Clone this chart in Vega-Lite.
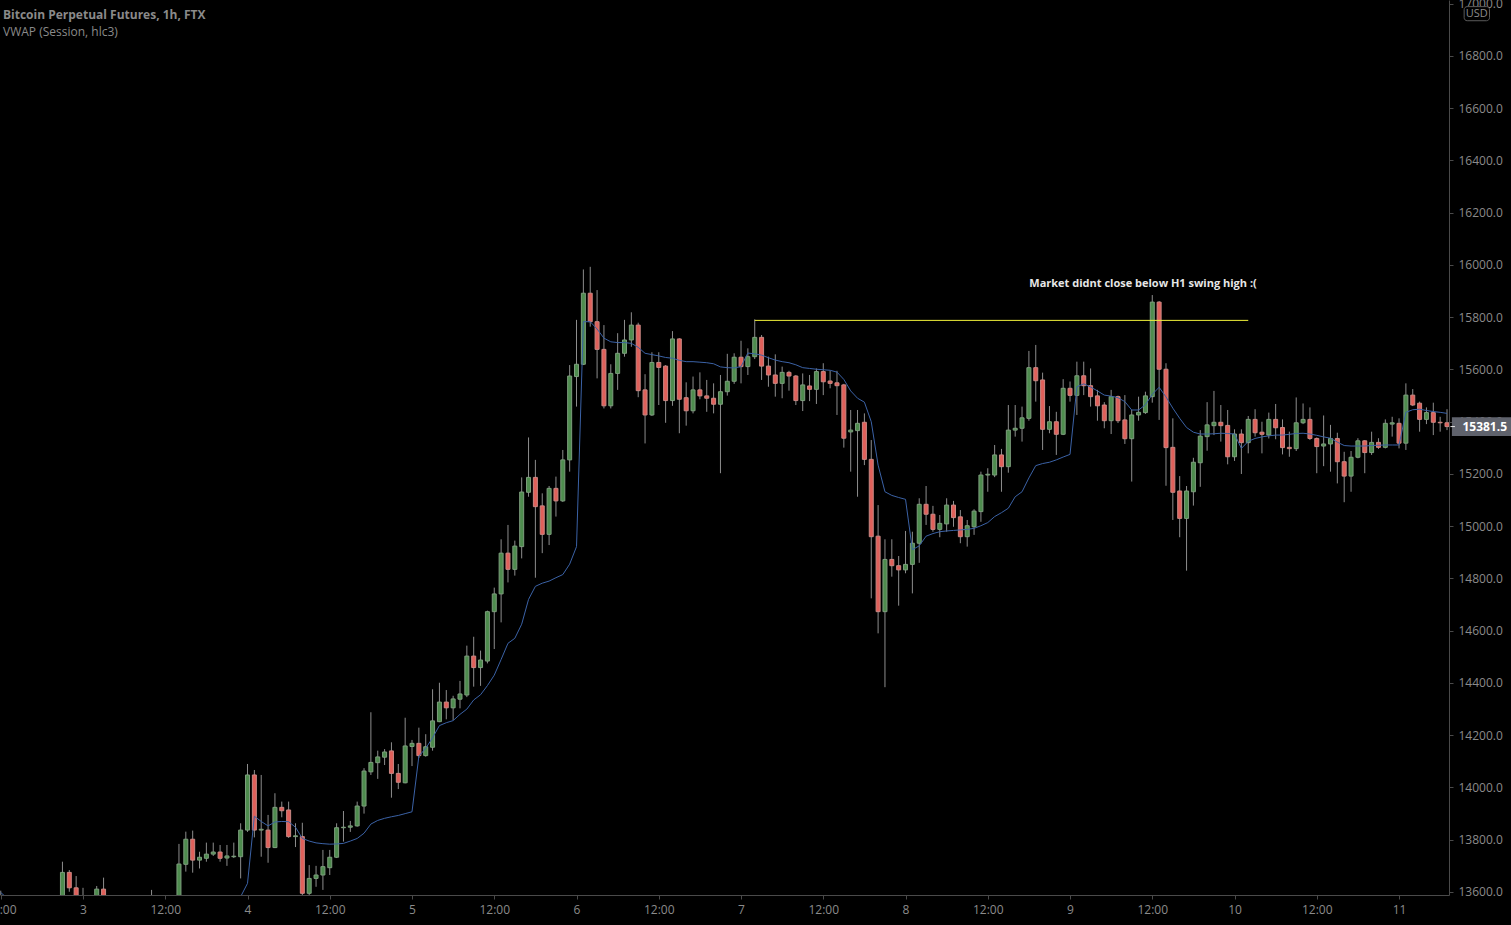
{
  "$schema": "https://vega.github.io/schema/vega-lite/v6.json",
  "width": 1449,
  "height": 895,
  "autosize": "none",
  "padding": {"left": 0, "top": 0, "right": 62, "bottom": 30},
  "background": "#000000",
  "config": {"view": {"stroke": null}, "font": "Open Sans", "axis": {"grid": false}},
  "title": {
    "text": "Bitcoin Perpetual Futures, 1h, FTX",
    "subtitle": "VWAP (Session, hlc3)",
    "anchor": "start", "frame": "group", "orient": "top", "offset": -41, "dx": 3,
    "font": "Open Sans", "fontSize": 12, "fontWeight": "bold", "color": "#8a8a8a",
    "subtitleFont": "Open Sans", "subtitleFontSize": 12, "subtitleColor": "#8a8a8a", "subtitlePadding": 5
  },
  "datasets": {
    "candles": [
      {"hour":-12,"open":13560,"high":13605,"low":13520,"close":13570,"vwap":13598},
      {"hour":-11,"open":13570,"high":13585,"low":13510,"close":13545,"vwap":13575},
      {"hour":-10,"open":13545,"high":13570,"low":13480,"close":13520,"vwap":13560},
      {"hour":-9,"open":13520,"high":13550,"low":13460,"close":13500,"vwap":13550},
      {"hour":-8,"open":13500,"high":13555,"low":13470,"close":13530,"vwap":13545},
      {"hour":-7,"open":13530,"high":13560,"low":13490,"close":13515,"vwap":13540},
      {"hour":-6,"open":13515,"high":13570,"low":13495,"close":13540,"vwap":13538},
      {"hour":-5,"open":13540,"high":13575,"low":13500,"close":13525,"vwap":13536},
      {"hour":-4,"open":13525,"high":13580,"low":13510,"close":13560,"vwap":13535},
      {"hour":-3,"open":13560,"high":13716,"low":13540,"close":13675,"vwap":13540},
      {"hour":-2,"open":13675,"high":13684,"low":13601,"close":13616,"vwap":13548},
      {"hour":-1,"open":13616,"high":13661,"low":13545,"close":13570,"vwap":13552},
      {"hour":0,"open":13570,"high":13616,"low":13530,"close":13560,"vwap":13555},
      {"hour":1,"open":13560,"high":13585,"low":13530,"close":13575,"vwap":13566},
      {"hour":2,"open":13575,"high":13623,"low":13560,"close":13611,"vwap":13566},
      {"hour":3,"open":13611,"high":13655,"low":13560,"close":13580,"vwap":13568},
      {"hour":4,"open":13580,"high":13585,"low":13530,"close":13560,"vwap":13567},
      {"hour":5,"open":13560,"high":13575,"low":13510,"close":13540,"vwap":13565},
      {"hour":6,"open":13540,"high":13570,"low":13500,"close":13555,"vwap":13563},
      {"hour":7,"open":13555,"high":13580,"low":13505,"close":13530,"vwap":13562},
      {"hour":8,"open":13530,"high":13565,"low":13500,"close":13545,"vwap":13560},
      {"hour":9,"open":13545,"high":13580,"low":13520,"close":13560,"vwap":13560},
      {"hour":10,"open":13560,"high":13608,"low":13540,"close":13570,"vwap":13561},
      {"hour":11,"open":13570,"high":13585,"low":13530,"close":13555,"vwap":13561},
      {"hour":12,"open":13555,"high":13582,"low":13525,"close":13565,"vwap":13561},
      {"hour":13,"open":13565,"high":13580,"low":13540,"close":13575,"vwap":13562},
      {"hour":14,"open":13575,"high":13784,"low":13560,"close":13707,"vwap":13566},
      {"hour":15,"open":13706,"high":13831,"low":13678,"close":13802,"vwap":13572},
      {"hour":16,"open":13802,"high":13835,"low":13674,"close":13722,"vwap":13576},
      {"hour":17,"open":13722,"high":13754,"low":13690,"close":13733,"vwap":13578},
      {"hour":18,"open":13729,"high":13789,"low":13716,"close":13745,"vwap":13579},
      {"hour":19,"open":13745,"high":13789,"low":13738,"close":13753,"vwap":13580},
      {"hour":20,"open":13753,"high":13780,"low":13716,"close":13729,"vwap":13580},
      {"hour":21,"open":13730,"high":13780,"low":13700,"close":13738,"vwap":13580},
      {"hour":22,"open":13735,"high":13789,"low":13730,"close":13737,"vwap":13580},
      {"hour":23,"open":13735,"high":13863,"low":13652,"close":13837,"vwap":13582},
      {"hour":24,"open":13837,"high":14090,"low":13830,"close":14048,"vwap":13633},
      {"hour":25,"open":14048,"high":14067,"low":13809,"close":13837,"vwap":13890},
      {"hour":26,"open":13837,"high":14048,"low":13735,"close":13840,"vwap":13870},
      {"hour":27,"open":13837,"high":13895,"low":13712,"close":13770,"vwap":13853},
      {"hour":28,"open":13770,"high":13978,"low":13768,"close":13924,"vwap":13868},
      {"hour":29,"open":13924,"high":13946,"low":13886,"close":13911,"vwap":13870},
      {"hour":30,"open":13914,"high":13946,"low":13807,"close":13812,"vwap":13869},
      {"hour":31,"open":13812,"high":13863,"low":13772,"close":13815,"vwap":13848},
      {"hour":32,"open":13812,"high":13865,"low":13570,"close":13595,"vwap":13805},
      {"hour":33,"open":13595,"high":13703,"low":13580,"close":13652,"vwap":13795},
      {"hour":34,"open":13652,"high":13700,"low":13620,"close":13665,"vwap":13788},
      {"hour":35,"open":13665,"high":13761,"low":13608,"close":13697,"vwap":13785},
      {"hour":36,"open":13693,"high":13761,"low":13665,"close":13733,"vwap":13783},
      {"hour":37,"open":13733,"high":13863,"low":13730,"close":13846,"vwap":13784},
      {"hour":38,"open":13846,"high":13910,"low":13793,"close":13848,"vwap":13786},
      {"hour":39,"open":13848,"high":13872,"low":13830,"close":13853,"vwap":13795},
      {"hour":40,"open":13853,"high":13946,"low":13850,"close":13929,"vwap":13805},
      {"hour":41,"open":13929,"high":14074,"low":13900,"close":14063,"vwap":13825},
      {"hour":42,"open":14060,"high":14288,"low":14048,"close":14096,"vwap":13860},
      {"hour":43,"open":14095,"high":14141,"low":14033,"close":14117,"vwap":13874},
      {"hour":44,"open":14116,"high":14147,"low":14086,"close":14136,"vwap":13882},
      {"hour":45,"open":14140,"high":14173,"low":13961,"close":14054,"vwap":13888},
      {"hour":46,"open":14054,"high":14090,"low":13994,"close":14020,"vwap":13893},
      {"hour":47,"open":14018,"high":14267,"low":14016,"close":14159,"vwap":13900},
      {"hour":48,"open":14157,"high":14182,"low":14082,"close":14169,"vwap":13907},
      {"hour":49,"open":14169,"high":14229,"low":14113,"close":14122,"vwap":14120},
      {"hour":50,"open":14122,"high":14204,"low":14118,"close":14156,"vwap":14150},
      {"hour":51,"open":14154,"high":14376,"low":14141,"close":14255,"vwap":14190},
      {"hour":52,"open":14252,"high":14401,"low":14250,"close":14327,"vwap":14237},
      {"hour":53,"open":14327,"high":14373,"low":14261,"close":14305,"vwap":14248},
      {"hour":54,"open":14305,"high":14351,"low":14258,"close":14339,"vwap":14256},
      {"hour":55,"open":14338,"high":14408,"low":14303,"close":14358,"vwap":14280},
      {"hour":56,"open":14354,"high":14543,"low":14346,"close":14503,"vwap":14300},
      {"hour":57,"open":14503,"high":14577,"low":14386,"close":14459,"vwap":14335},
      {"hour":58,"open":14459,"high":14524,"low":14389,"close":14488,"vwap":14355},
      {"hour":59,"open":14484,"high":14677,"low":14475,"close":14673,"vwap":14390},
      {"hour":60,"open":14673,"high":14765,"low":14530,"close":14741,"vwap":14430},
      {"hour":61,"open":14741,"high":14950,"low":14632,"close":14897,"vwap":14490},
      {"hour":62,"open":14897,"high":15005,"low":14785,"close":14835,"vwap":14552},
      {"hour":63,"open":14835,"high":14945,"low":14811,"close":14924,"vwap":14571},
      {"hour":64,"open":14922,"high":15187,"low":14877,"close":15131,"vwap":14625},
      {"hour":65,"open":15130,"high":15340,"low":15113,"close":15187,"vwap":14720},
      {"hour":66,"open":15187,"high":15254,"low":14803,"close":15075,"vwap":14770},
      {"hour":67,"open":15078,"high":15126,"low":14897,"close":14969,"vwap":14782},
      {"hour":68,"open":14969,"high":15154,"low":14928,"close":15145,"vwap":14790},
      {"hour":69,"open":15145,"high":15190,"low":15037,"close":15097,"vwap":14803},
      {"hour":70,"open":15097,"high":15292,"low":15093,"close":15254,"vwap":14815},
      {"hour":71,"open":15254,"high":15617,"low":15209,"close":15575,"vwap":14855},
      {"hour":72,"open":15573,"high":15790,"low":15458,"close":15620,"vwap":14922},
      {"hour":73,"open":15620,"high":15983,"low":15617,"close":15892,"vwap":15783},
      {"hour":74,"open":15892,"high":15993,"low":15764,"close":15783,"vwap":15783},
      {"hour":75,"open":15783,"high":15904,"low":15566,"close":15677,"vwap":15755},
      {"hour":76,"open":15677,"high":15770,"low":15451,"close":15461,"vwap":15720},
      {"hour":77,"open":15461,"high":15620,"low":15451,"close":15585,"vwap":15706},
      {"hour":78,"open":15585,"high":15739,"low":15522,"close":15662,"vwap":15703},
      {"hour":79,"open":15662,"high":15790,"low":15649,"close":15713,"vwap":15703},
      {"hour":80,"open":15713,"high":15819,"low":15687,"close":15770,"vwap":15700},
      {"hour":81,"open":15770,"high":15779,"low":15494,"close":15519,"vwap":15685},
      {"hour":82,"open":15522,"high":15582,"low":15317,"close":15426,"vwap":15662},
      {"hour":83,"open":15426,"high":15666,"low":15422,"close":15627,"vwap":15657},
      {"hour":84,"open":15627,"high":15666,"low":15464,"close":15608,"vwap":15652},
      {"hour":85,"open":15613,"high":15617,"low":15396,"close":15481,"vwap":15646},
      {"hour":86,"open":15481,"high":15747,"low":15461,"close":15717,"vwap":15643},
      {"hour":87,"open":15717,"high":15720,"low":15356,"close":15486,"vwap":15635},
      {"hour":88,"open":15492,"high":15551,"low":15385,"close":15442,"vwap":15630},
      {"hour":89,"open":15442,"high":15573,"low":15432,"close":15522,"vwap":15630},
      {"hour":90,"open":15522,"high":15589,"low":15486,"close":15499,"vwap":15628},
      {"hour":91,"open":15499,"high":15560,"low":15438,"close":15490,"vwap":15626},
      {"hour":92,"open":15490,"high":15547,"low":15432,"close":15467,"vwap":15622},
      {"hour":93,"open":15467,"high":15579,"low":15203,"close":15515,"vwap":15610},
      {"hour":94,"open":15515,"high":15660,"low":15500,"close":15555,"vwap":15607},
      {"hour":95,"open":15555,"high":15662,"low":15545,"close":15647,"vwap":15606},
      {"hour":96,"open":15647,"high":15710,"low":15547,"close":15611,"vwap":15611},
      {"hour":97,"open":15611,"high":15681,"low":15579,"close":15649,"vwap":15663},
      {"hour":98,"open":15649,"high":15792,"low":15640,"close":15723,"vwap":15660},
      {"hour":99,"open":15723,"high":15732,"low":15560,"close":15613,"vwap":15655},
      {"hour":100,"open":15613,"high":15649,"low":15534,"close":15579,"vwap":15645},
      {"hour":101,"open":15579,"high":15658,"low":15496,"close":15547,"vwap":15636},
      {"hour":102,"open":15547,"high":15611,"low":15490,"close":15589,"vwap":15630},
      {"hour":103,"open":15589,"high":15595,"low":15519,"close":15575,"vwap":15626},
      {"hour":104,"open":15575,"high":15579,"low":15464,"close":15481,"vwap":15618},
      {"hour":105,"open":15481,"high":15585,"low":15441,"close":15541,"vwap":15607},
      {"hour":106,"open":15537,"high":15579,"low":15479,"close":15524,"vwap":15604},
      {"hour":107,"open":15524,"high":15604,"low":15468,"close":15592,"vwap":15601},
      {"hour":108,"open":15592,"high":15624,"low":15502,"close":15553,"vwap":15599},
      {"hour":109,"open":15556,"high":15595,"low":15528,"close":15547,"vwap":15597},
      {"hour":110,"open":15549,"high":15595,"low":15426,"close":15538,"vwap":15590},
      {"hour":111,"open":15541,"high":15545,"low":15301,"close":15337,"vwap":15562},
      {"hour":112,"open":15361,"high":15445,"low":15209,"close":15368,"vwap":15518},
      {"hour":113,"open":15366,"high":15445,"low":15113,"close":15394,"vwap":15490},
      {"hour":114,"open":15398,"high":15432,"low":15234,"close":15256,"vwap":15475},
      {"hour":115,"open":15256,"high":15330,"low":14724,"close":14960,"vwap":15400},
      {"hour":116,"open":14962,"high":15081,"low":14590,"close":14673,"vwap":15234},
      {"hour":117,"open":14673,"high":14950,"low":14384,"close":14873,"vwap":15132},
      {"hour":118,"open":14873,"high":14950,"low":14807,"close":14849,"vwap":15118},
      {"hour":119,"open":14849,"high":14886,"low":14696,"close":14833,"vwap":15110},
      {"hour":120,"open":14833,"high":14982,"low":14820,"close":14854,"vwap":15103},
      {"hour":121,"open":14854,"high":14979,"low":14743,"close":14935,"vwap":14910},
      {"hour":122,"open":14935,"high":15107,"low":14860,"close":15084,"vwap":14925},
      {"hour":123,"open":15084,"high":15154,"low":15005,"close":15046,"vwap":14962},
      {"hour":124,"open":15046,"high":15078,"low":14979,"close":14988,"vwap":14972},
      {"hour":125,"open":14988,"high":15043,"low":14958,"close":15011,"vwap":14979},
      {"hour":126,"open":15009,"high":15107,"low":14979,"close":15081,"vwap":14982},
      {"hour":127,"open":15081,"high":15097,"low":14998,"close":15033,"vwap":14984},
      {"hour":128,"open":15036,"high":15062,"low":14935,"close":14960,"vwap":14986},
      {"hour":129,"open":14960,"high":15024,"low":14922,"close":15002,"vwap":14988},
      {"hour":130,"open":14998,"high":15065,"low":14967,"close":15058,"vwap":14992},
      {"hour":131,"open":15056,"high":15209,"low":15017,"close":15196,"vwap":15002},
      {"hour":132,"open":15196,"high":15222,"low":15132,"close":15199,"vwap":15014},
      {"hour":133,"open":15196,"high":15311,"low":15188,"close":15273,"vwap":15037},
      {"hour":134,"open":15273,"high":15296,"low":15132,"close":15228,"vwap":15052},
      {"hour":135,"open":15228,"high":15464,"low":15205,"close":15368,"vwap":15069},
      {"hour":136,"open":15368,"high":15464,"low":15343,"close":15375,"vwap":15113},
      {"hour":137,"open":15375,"high":15458,"low":15324,"close":15415,"vwap":15132},
      {"hour":138,"open":15413,"high":15671,"low":15404,"close":15607,"vwap":15185},
      {"hour":139,"open":15607,"high":15694,"low":15477,"close":15557,"vwap":15232},
      {"hour":140,"open":15560,"high":15588,"low":15292,"close":15371,"vwap":15240},
      {"hour":141,"open":15371,"high":15460,"low":15356,"close":15400,"vwap":15245},
      {"hour":142,"open":15400,"high":15438,"low":15273,"close":15352,"vwap":15254},
      {"hour":143,"open":15352,"high":15563,"low":15349,"close":15528,"vwap":15265},
      {"hour":144,"open":15528,"high":15554,"low":15477,"close":15501,"vwap":15275},
      {"hour":145,"open":15501,"high":15630,"low":15426,"close":15576,"vwap":15534},
      {"hour":146,"open":15576,"high":15630,"low":15502,"close":15538,"vwap":15545},
      {"hour":147,"open":15538,"high":15604,"low":15458,"close":15496,"vwap":15533},
      {"hour":148,"open":15499,"high":15522,"low":15404,"close":15461,"vwap":15518},
      {"hour":149,"open":15464,"high":15475,"low":15375,"close":15404,"vwap":15502},
      {"hour":150,"open":15404,"high":15522,"low":15353,"close":15496,"vwap":15498},
      {"hour":151,"open":15496,"high":15500,"low":15395,"close":15404,"vwap":15492},
      {"hour":152,"open":15407,"high":15502,"low":15315,"close":15335,"vwap":15477},
      {"hour":153,"open":15335,"high":15445,"low":15171,"close":15426,"vwap":15445},
      {"hour":154,"open":15426,"high":15496,"low":15404,"close":15436,"vwap":15445},
      {"hour":155,"open":15435,"high":15515,"low":15430,"close":15499,"vwap":15465},
      {"hour":156,"open":15496,"high":15885,"low":15473,"close":15858,"vwap":15505},
      {"hour":157,"open":15858,"high":15862,"low":15407,"close":15601,"vwap":15532},
      {"hour":158,"open":15601,"high":15624,"low":15155,"close":15301,"vwap":15495},
      {"hour":159,"open":15302,"high":15413,"low":15024,"close":15130,"vwap":15452},
      {"hour":160,"open":15135,"high":15192,"low":14958,"close":15030,"vwap":15413},
      {"hour":161,"open":15030,"high":15154,"low":14830,"close":15135,"vwap":15378},
      {"hour":162,"open":15132,"high":15262,"low":15079,"close":15245,"vwap":15360},
      {"hour":163,"open":15243,"high":15368,"low":15151,"close":15345,"vwap":15353},
      {"hour":164,"open":15343,"high":15475,"low":15289,"close":15388,"vwap":15353},
      {"hour":165,"open":15385,"high":15518,"low":15349,"close":15398,"vwap":15354},
      {"hour":166,"open":15398,"high":15464,"low":15324,"close":15385,"vwap":15356},
      {"hour":167,"open":15386,"high":15445,"low":15237,"close":15266,"vwap":15355},
      {"hour":168,"open":15266,"high":15371,"low":15250,"close":15353,"vwap":15353},
      {"hour":169,"open":15353,"high":15371,"low":15200,"close":15320,"vwap":15298},
      {"hour":170,"open":15320,"high":15422,"low":15279,"close":15409,"vwap":15325},
      {"hour":171,"open":15409,"high":15448,"low":15343,"close":15358,"vwap":15336},
      {"hour":172,"open":15360,"high":15400,"low":15279,"close":15352,"vwap":15342},
      {"hour":173,"open":15349,"high":15435,"low":15336,"close":15409,"vwap":15346},
      {"hour":174,"open":15409,"high":15468,"low":15333,"close":15377,"vwap":15349},
      {"hour":175,"open":15378,"high":15409,"low":15275,"close":15301,"vwap":15349},
      {"hour":176,"open":15302,"high":15362,"low":15266,"close":15297,"vwap":15352},
      {"hour":177,"open":15297,"high":15493,"low":15288,"close":15396,"vwap":15355},
      {"hour":178,"open":15396,"high":15470,"low":15391,"close":15409,"vwap":15356},
      {"hour":179,"open":15409,"high":15455,"low":15330,"close":15336,"vwap":15353},
      {"hour":180,"open":15336,"high":15340,"low":15203,"close":15305,"vwap":15348},
      {"hour":181,"open":15307,"high":15424,"low":15230,"close":15315,"vwap":15342},
      {"hour":182,"open":15315,"high":15388,"low":15209,"close":15336,"vwap":15337},
      {"hour":183,"open":15336,"high":15358,"low":15164,"close":15247,"vwap":15322},
      {"hour":184,"open":15247,"high":15285,"low":15092,"close":15192,"vwap":15309},
      {"hour":185,"open":15192,"high":15288,"low":15132,"close":15264,"vwap":15307},
      {"hour":186,"open":15264,"high":15337,"low":15260,"close":15327,"vwap":15307},
      {"hour":187,"open":15327,"high":15330,"low":15203,"close":15282,"vwap":15307},
      {"hour":188,"open":15282,"high":15362,"low":15273,"close":15321,"vwap":15309},
      {"hour":189,"open":15321,"high":15337,"low":15296,"close":15302,"vwap":15310},
      {"hour":190,"open":15302,"high":15409,"low":15298,"close":15394,"vwap":15311},
      {"hour":191,"open":15391,"high":15419,"low":15343,"close":15396,"vwap":15311},
      {"hour":192,"open":15394,"high":15413,"low":15298,"close":15318,"vwap":15311},
      {"hour":193,"open":15318,"high":15547,"low":15292,"close":15502,"vwap":15436},
      {"hour":194,"open":15502,"high":15525,"low":15460,"close":15464,"vwap":15446},
      {"hour":195,"open":15471,"high":15477,"low":15362,"close":15409,"vwap":15448},
      {"hour":196,"open":15409,"high":15455,"low":15391,"close":15435,"vwap":15443},
      {"hour":197,"open":15435,"high":15473,"low":15349,"close":15398,"vwap":15439},
      {"hour":198,"open":15398,"high":15419,"low":15362,"close":15396,"vwap":15436},
      {"hour":199,"open":15396,"high":15448,"low":15368,"close":15381.5,"vwap":15432}
    ],
    "swing": [{"from": 98, "to": 170, "level": 15788}],
    "notes": [{"hour": 154.65, "price": 15927, "label": "Market didnt close below H1 swing high :("}],
    "last": [{"price": 15381.5}]
  },
  "layer": [
    {
      "data": {"name": "candles"},
      "mark": {"type": "rule", "color": "#8d8d8d", "strokeWidth": 1, "clip": true},
      "encoding": {
        "x": {"field": "hour", "type": "quantitative", "title": null,
              "scale": {"domain": [-12.11, 199.29], "nice": false, "zero": false, "padding": 0},
              "axis": {"values": [-12,0,12,24,36,48,60,72,84,96,108,120,132,144,156,168,180,192],
                       "labelExpr": "datum.value % 24 == 0 ? '' + (3 + datum.value / 24) : '12:00'",
                       "title": null, "domainColor": "#4a4a4a", "tickColor": "#4a4a4a", "tickSize": 4,
                       "labelColor": "#8b8b8b", "labelFontSize": 12, "labelPadding": 5, "labelFont": "Open Sans",
                       "labelFlush": false, "labelOverlap": false, "labelBound": false}},
        "y": {"field": "low", "type": "quantitative", "title": null,
              "scale": {"domain": [13588.5, 17014.35], "nice": false, "zero": false, "padding": 0},
              "axis": {"orient": "right",
                       "values": [13600,13800,14000,14200,14400,14600,14800,15000,15200,15400,15600,15800,16000,16200,16400,16600,16800,17000],
                       "format": ".1f", "title": null, "domainColor": "#4a4a4a", "tickColor": "#4a4a4a", "tickSize": 4,
                       "labelColor": "#8b8b8b", "labelFontSize": 12, "labelPadding": 5, "labelFont": "Open Sans",
                       "labelFlush": false, "labelOverlap": false, "labelBound": false}},
        "y2": {"field": "high"}
      }
    },
    {
      "data": {"name": "candles"},
      "mark": {"type": "bar", "width": 4, "strokeWidth": 1, "clip": true},
      "encoding": {
        "x": {"field": "hour", "type": "quantitative", "title": null},
        "y": {"field": "open", "type": "quantitative", "title": null},
        "y2": {"field": "close"},
        "fill": {"condition": {"test": "datum.close >= datum.open", "value": "#4e8c4e"}, "value": "#e0605a"},
        "stroke": {"condition": {"test": "datum.close >= datum.open", "value": "#7d9e7d"}, "value": "#c98884"}
      }
    },
    {
      "data": {"name": "candles"},
      "mark": {"type": "line", "color": "#3b62a6", "strokeWidth": 1, "clip": true},
      "encoding": {
        "x": {"field": "hour", "type": "quantitative", "title": null},
        "y": {"field": "vwap", "type": "quantitative", "title": null}
      }
    },
    {
      "data": {"name": "swing"},
      "mark": {"type": "rule", "color": "#f2f23a", "strokeWidth": 1},
      "encoding": {
        "x": {"field": "from", "type": "quantitative", "title": null},
        "x2": {"field": "to"},
        "y": {"field": "level", "type": "quantitative", "title": null}
      }
    },
    {
      "data": {"name": "notes"},
      "mark": {"type": "text", "color": "#e6e6e6", "font": "Open Sans", "fontWeight": "bold", "fontSize": 11, "align": "center", "baseline": "middle"},
      "encoding": {
        "x": {"field": "hour", "type": "quantitative", "title": null},
        "y": {"field": "price", "type": "quantitative", "title": null},
        "text": {"field": "label"}
      }
    },
    {
      "data": {"name": "last"},
      "mark": {"type": "point", "shape": "M-1,-0.31L1,-0.31L1,0.31L-1,0.31Z", "size": 3700, "filled": true, "color": "#5f626c", "opacity": 1, "clip": false},
      "encoding": {
        "x": {"datum": 204.15, "type": "quantitative", "title": null},
        "y": {"field": "price", "type": "quantitative", "title": null}
      }
    },
    {
      "data": {"name": "last"},
      "mark": {"type": "rule", "color": "#e8e8e8", "strokeWidth": 1, "clip": false},
      "encoding": {
        "x": {"datum": 199.5, "type": "quantitative", "title": null},
        "x2": {"datum": 200.15},
        "y": {"field": "price", "type": "quantitative", "title": null}
      }
    },
    {
      "data": {"name": "last"},
      "mark": {"type": "text", "color": "#ffffff", "font": "Open Sans", "fontWeight": "bold", "fontSize": 12, "align": "center", "baseline": "middle", "clip": false},
      "encoding": {
        "x": {"datum": 204.5, "type": "quantitative", "title": null},
        "y": {"field": "price", "type": "quantitative", "title": null},
        "text": {"field": "price", "format": ".1f"}
      }
    },
    {
      "data": {"values": [{"unit": "USD"}]},
      "mark": {"type": "rect", "fill": "#000000", "stroke": "#5a5a5a", "strokeWidth": 1, "cornerRadius": 3, "clip": false},
      "encoding": {
        "x": {"datum": 201.5, "type": "quantitative", "title": null},
        "x2": {"datum": 205.2},
        "y": {"datum": 16935, "type": "quantitative", "title": null},
        "y2": {"datum": 16989}
      }
    },
    {
      "data": {"values": [{"unit": "USD"}]},
      "mark": {"type": "text", "color": "#8b8b8b", "font": "Open Sans", "fontSize": 11, "align": "center", "baseline": "middle", "clip": false},
      "encoding": {
        "x": {"datum": 203.35, "type": "quantitative", "title": null},
        "y": {"datum": 16962, "type": "quantitative", "title": null},
        "text": {"field": "unit"}
      }
    }
  ]
}
